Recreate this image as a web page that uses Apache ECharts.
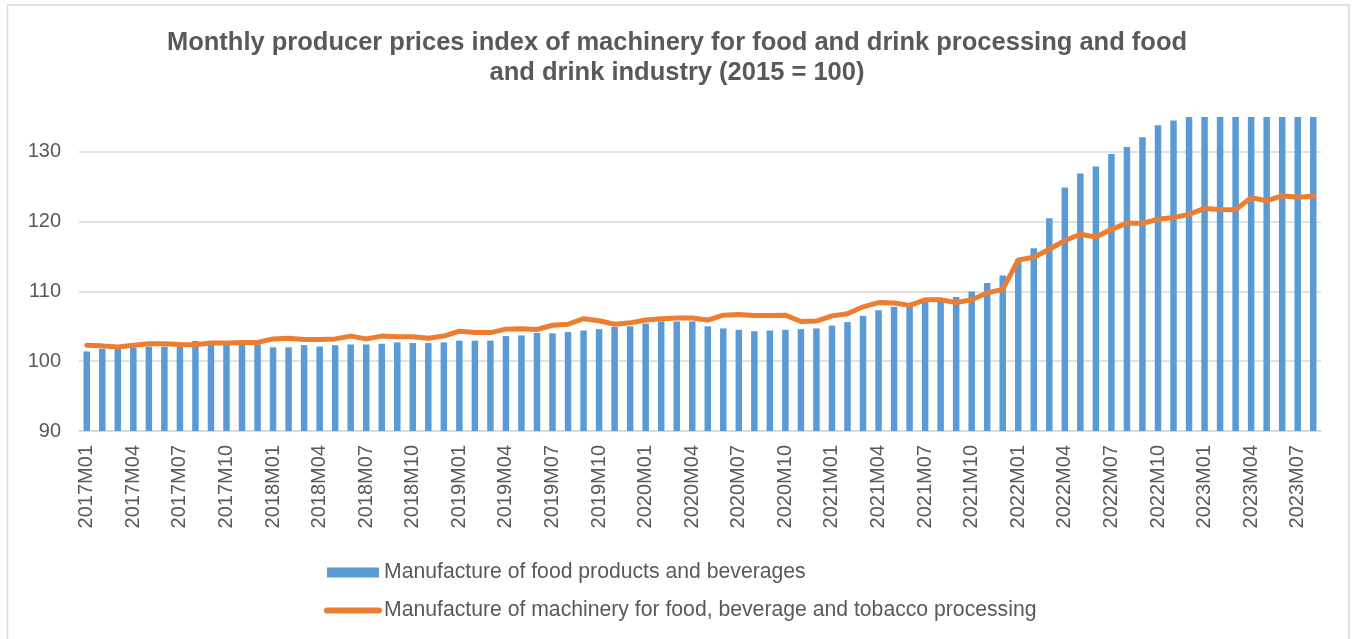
<!DOCTYPE html>
<html>
<head>
<meta charset="utf-8">
<script src="https://cdn.jsdelivr.net/npm/echarts@6/dist/echarts.min.js"></script>
<style>
html,body{margin:0;padding:0;background:#fff;}
#chart{width:1354px;height:639px;}
</style>
</head>
<body>
<div id="chart"></div>
<script>
const categories = [
 '2017M01','2017M02','2017M03','2017M04','2017M05','2017M06','2017M07','2017M08','2017M09','2017M10','2017M11','2017M12',
 '2018M01','2018M02','2018M03','2018M04','2018M05','2018M06','2018M07','2018M08','2018M09','2018M10','2018M11','2018M12',
 '2019M01','2019M02','2019M03','2019M04','2019M05','2019M06','2019M07','2019M08','2019M09','2019M10','2019M11','2019M12',
 '2020M01','2020M02','2020M03','2020M04','2020M05','2020M06','2020M07','2020M08','2020M09','2020M10','2020M11','2020M12',
 '2021M01','2021M02','2021M03','2021M04','2021M05','2021M06','2021M07','2021M08','2021M09','2021M10','2021M11','2021M12',
 '2022M01','2022M02','2022M03','2022M04','2022M05','2022M06','2022M07','2022M08','2022M09','2022M10','2022M11','2022M12',
 '2023M01','2023M02','2023M03','2023M04','2023M05','2023M06','2023M07','2023M08'
];

const foodProducts = [
 101.4,101.8,101.8,102.0,102.1,102.1,102.1,102.9,102.35,102.35,102.4,102.4,
 102.0,102.0,102.3,102.1,102.3,102.4,102.4,102.5,102.7,102.6,102.6,102.7,
 102.95,102.95,102.95,103.6,103.7,104.05,104.0,104.2,104.4,104.6,104.9,105.0,
 105.4,105.7,105.7,105.7,105.0,104.7,104.5,104.3,104.4,104.5,104.6,104.7,
 105.1,105.6,106.5,107.3,107.8,107.9,108.5,108.5,109.2,110.0,111.2,112.3,
 114.6,116.2,120.5,124.9,126.9,127.9,129.7,130.7,132.1,133.8,134.5,135,
 135,135,135,135,135,135,135,135
];

const foodMachinery = [
 102.3,102.2,102.05,102.3,102.5,102.5,102.4,102.35,102.6,102.6,102.7,102.7,
 103.2,103.3,103.1,103.1,103.2,103.6,103.2,103.6,103.5,103.5,103.3,103.6,
 104.3,104.1,104.1,104.6,104.65,104.55,105.15,105.3,106.1,105.8,105.3,105.5,
 105.9,106.1,106.2,106.2,105.9,106.6,106.7,106.55,106.55,106.6,105.7,105.75,
 106.5,106.8,107.8,108.4,108.35,108.0,108.8,108.8,108.4,108.8,109.8,110.3,
 114.5,114.9,116.05,117.3,118.2,117.8,118.9,119.8,119.75,120.35,120.6,121.05,
 121.9,121.75,121.7,123.45,123.0,123.7,123.5,123.65
];

const seriesNames = [
 'Manufacture of food products and beverages',
 'Manufacture of machinery for food, beverage and tobacco processing'
];
const titleText = 'Monthly producer prices index of machinery for food and drink processing and food\nand drink industry (2015 = 100)';

const FONT = "'Liberation Sans', Arial, sans-serif";
const GREY = '#595959';
const GRID = '#D9D9D9';

const chart = echarts.init(document.getElementById('chart'), null, {renderer: 'canvas'});
chart.setOption({
  backgroundColor: '#fff',
  animation: false,
  title: {
    text: titleText,
    left: 'center',
    top: 23,
    textStyle: {fontFamily: FONT, fontSize: 25.5, fontWeight: 'bold', color: GREY, lineHeight: 30}
  },
  graphic: [{
    type: 'rect',
    shape: {x: 7.5, y: 5, width: 1341.5, height: 660},
    style: {fill: 'none', stroke: GRID, lineWidth: 1.5},
    silent: true
  }],
  legend: {
    orient: 'vertical',
    left: 319,
    top: 557,
    itemWidth: 52,
    itemHeight: 10,
    itemGap: 17,
    textStyle: {fontFamily: FONT, fontSize: 21.2, color: GREY},
    data: [
      {name: seriesNames[0], icon: 'rect'},
      {name: seriesNames[1], itemStyle: {opacity: 0}, lineStyle: {width: 6, cap: 'round'}}
    ]
  },
  grid: {left: 79, right: 33, top: 117, bottom: 208},
  xAxis: {
    type: 'category',
    data: categories,
    boundaryGap: true,
    axisLine: {lineStyle: {color: GRID, width: 1.5}},
    axisTick: {show: false},
    axisLabel: {rotate: 90, interval: 2, margin: 14, fontFamily: FONT, fontSize: 20, color: GREY}
  },
  yAxis: {
    type: 'value',
    min: 90,
    max: 135,
    interval: 10,
    axisLine: {show: false},
    axisTick: {show: false},
    axisLabel: {
      margin: 18, fontFamily: FONT, fontSize: 20, color: GREY,
      formatter: v => (v % 10 === 0 ? String(v) : '')
    },
    splitLine: {lineStyle: {color: [GRID, GRID, GRID, GRID, GRID, 'rgba(0,0,0,0)'], width: 1.5}}
  },
  series: [
    {
      name: seriesNames[0],
      type: 'bar',
      data: foodProducts,
      barWidth: 6.5,
      itemStyle: {color: '#5B9BD5'},
      z: 2
    },
    {
      name: seriesNames[1],
      type: 'line',
      data: foodMachinery,
      symbol: 'none',
      lineStyle: {color: '#ED7D31', width: 5, cap: 'round', join: 'round'},
      itemStyle: {color: '#ED7D31'},
      z: 3
    }
  ]
});
</script>
</body>
</html>
